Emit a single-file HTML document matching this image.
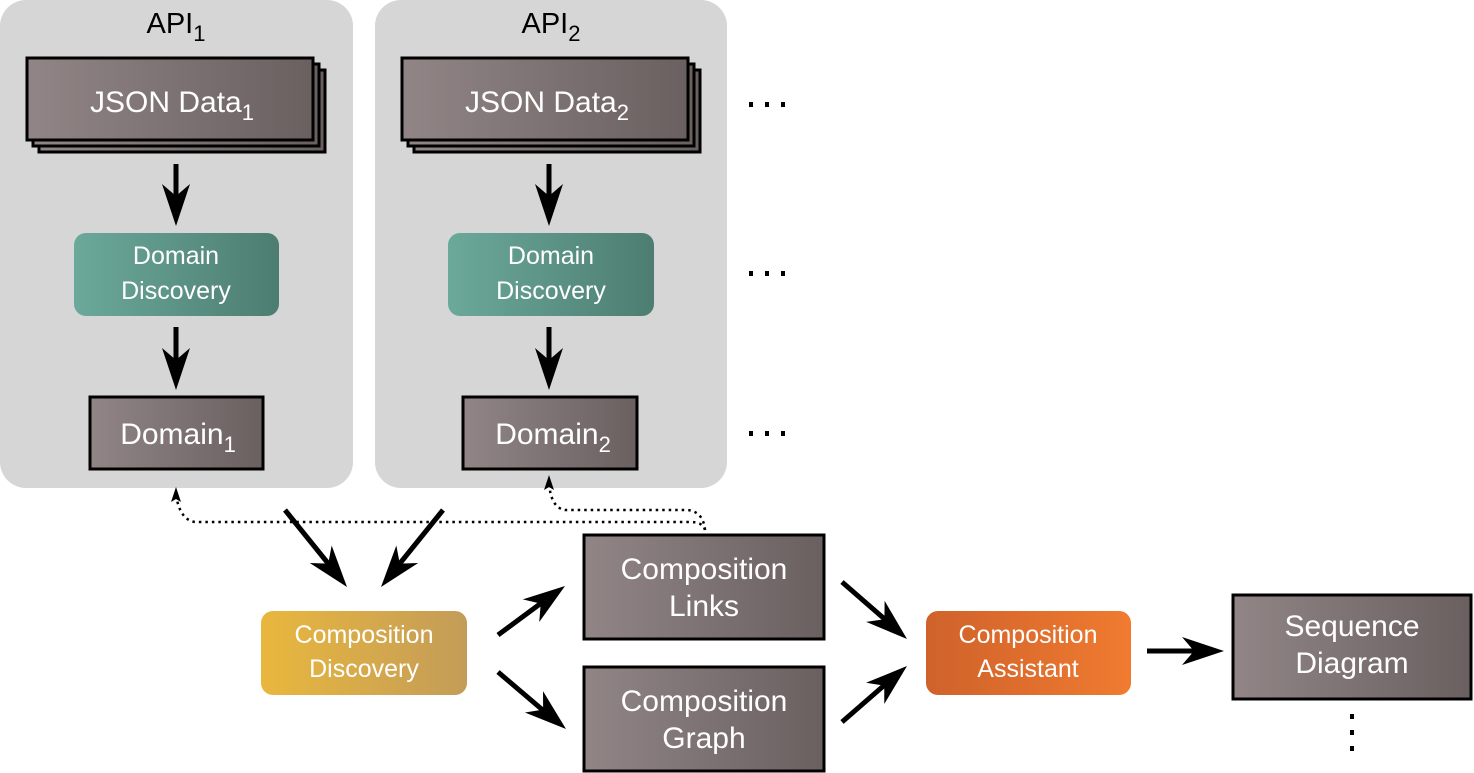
<!DOCTYPE html>
<html><head><style>body{margin:0;background:#fff}svg{display:block}text{font-family:"Liberation Sans",Arial,Helvetica,sans-serif}</style></head><body>
<svg width="1474" height="773" viewBox="0 0 1474 773" xmlns="http://www.w3.org/2000/svg">
<defs>
<linearGradient id="g" x1="0" x2="1"><stop offset="0" stop-color="#918586"/><stop offset="1" stop-color="#6a6060"/></linearGradient>
<linearGradient id="t" x1="0" x2="1"><stop offset="0" stop-color="#6ba99b"/><stop offset="1" stop-color="#4d7d71"/></linearGradient>
<linearGradient id="y" x1="0" x2="1"><stop offset="0" stop-color="#e9b73e"/><stop offset="1" stop-color="#c39c58"/></linearGradient>
<linearGradient id="o" x1="0" x2="1"><stop offset="0" stop-color="#cf622b"/><stop offset="1" stop-color="#f07b30"/></linearGradient>
<path id="h" d="M0,0 L-42,-14 L-30,0 L-42,14z" fill="#000"/>
</defs>
<rect x="0" y="0" width="353" height="488" rx="26" fill="#d6d6d6"/>
<rect x="375" y="0" width="352" height="488" rx="26" fill="#d6d6d6"/>
<text x="176" y="33" text-anchor="middle" font-size="29">API<tspan font-size="22" dy="8">1</tspan></text>
<text x="551" y="33" text-anchor="middle" font-size="29">API<tspan font-size="22" dy="8">2</tspan></text>
<g stroke="#000" stroke-width="3" fill="url(#g)">
<rect x="39" y="70" width="286" height="82"/><rect x="33" y="64" width="286" height="82"/><rect x="27" y="58" width="286" height="82"/>
<rect x="414" y="70" width="286" height="82"/><rect x="408" y="64" width="286" height="82"/><rect x="402" y="58" width="286" height="82"/>
<rect x="90" y="397" width="173" height="72"/><rect x="463" y="397" width="174" height="72"/>
<rect x="584" y="535" width="240" height="104"/><rect x="584" y="667" width="240" height="104"/>
<rect x="1233" y="595" width="238" height="104"/>
</g>
<rect x="74" y="233" width="205" height="83" rx="12" fill="url(#t)"/>
<rect x="448" y="233" width="206" height="83" rx="12" fill="url(#t)"/>
<rect x="261" y="611" width="206" height="84" rx="12" fill="url(#y)"/>
<rect x="926" y="611" width="205" height="84" rx="12" fill="url(#o)"/>
<g fill="#fff" font-size="30" text-anchor="middle">
<text x="172" y="112">JSON Data<tspan font-size="22" dy="8">1</tspan></text>
<text x="547" y="112">JSON Data<tspan font-size="22" dy="8">2</tspan></text>
<text x="178" y="444">Domain<tspan font-size="22" dy="8">1</tspan></text>
<text x="553" y="444">Domain<tspan font-size="22" dy="8">2</tspan></text>
<text x="704" y="579">Composition</text><text x="704" y="616">Links</text>
<text x="704" y="711">Composition</text><text x="704" y="748">Graph</text>
<text x="1352" y="636">Sequence</text><text x="1352" y="673">Diagram</text>
</g>
<g fill="#fff" font-size="25" text-anchor="middle">
<text x="176" y="264">Domain</text><text x="176" y="299">Discovery</text>
<text x="551" y="264">Domain</text><text x="551" y="299">Discovery</text>
<text x="364" y="643">Composition</text><text x="364" y="677">Discovery</text>
<text x="1028" y="643">Composition</text><text x="1028" y="677">Assistant</text>
</g>
<g stroke="#000" stroke-width="5">
<line x1="176" y1="164" x2="176" y2="200"/><line x1="176" y1="327" x2="176" y2="363"/>
<line x1="549" y1="164" x2="549" y2="200"/><line x1="549" y1="327" x2="549" y2="363"/>
<line x1="285" y1="510" x2="331" y2="567"/><line x1="443" y1="510" x2="397" y2="567"/>
<line x1="498" y1="635" x2="544" y2="601"/><line x1="498" y1="672" x2="545" y2="712"/>
<line x1="842" y1="582" x2="888" y2="622"/><line x1="842" y1="722" x2="888" y2="682"/>
<line x1="1147" y1="651" x2="1195" y2="651"/>
</g>
<use href="#h" transform="translate(176,226) rotate(90)"/>
<use href="#h" transform="translate(176,390) rotate(90)"/>
<use href="#h" transform="translate(549,226) rotate(90)"/>
<use href="#h" transform="translate(549,390) rotate(90)"/>
<use href="#h" transform="translate(347,587) rotate(51.3)"/>
<use href="#h" transform="translate(381,587) rotate(128.7)"/>
<use href="#h" transform="translate(565,586) rotate(-36)"/>
<use href="#h" transform="translate(566,729) rotate(40.3)"/>
<use href="#h" transform="translate(907,639) rotate(41.2)"/>
<use href="#h" transform="translate(907,666) rotate(-40.7)"/>
<use href="#h" transform="translate(1224,651)"/>
<g fill="none" stroke="#000" stroke-width="2.5" stroke-dasharray="2.5 4">
<path d="M705,530 Q703,522 690,522 L195,522 Q180,520 176,495"/>
<path d="M705,530 Q703,510 685,510 L565,510 Q551,508 549,483"/>
</g>
<path d="M176,487 L181,502 L176,499 L171,502z M549,475 L554,490 L549,487 L544,490z" fill="#000"/>
<g fill="#000">
<rect x="749" y="102" width="4" height="5"/><rect x="765" y="102" width="4" height="5"/><rect x="781" y="102" width="4" height="5"/>
<rect x="749" y="271" width="4" height="5"/><rect x="765" y="271" width="4" height="5"/><rect x="781" y="271" width="4" height="5"/>
<rect x="749" y="431" width="4" height="5"/><rect x="765" y="431" width="4" height="5"/><rect x="781" y="431" width="4" height="5"/>
<rect x="1350" y="714" width="4" height="5"/><rect x="1350" y="730" width="4" height="5"/><rect x="1350" y="746" width="4" height="5"/></g>
</svg>
</body></html>
